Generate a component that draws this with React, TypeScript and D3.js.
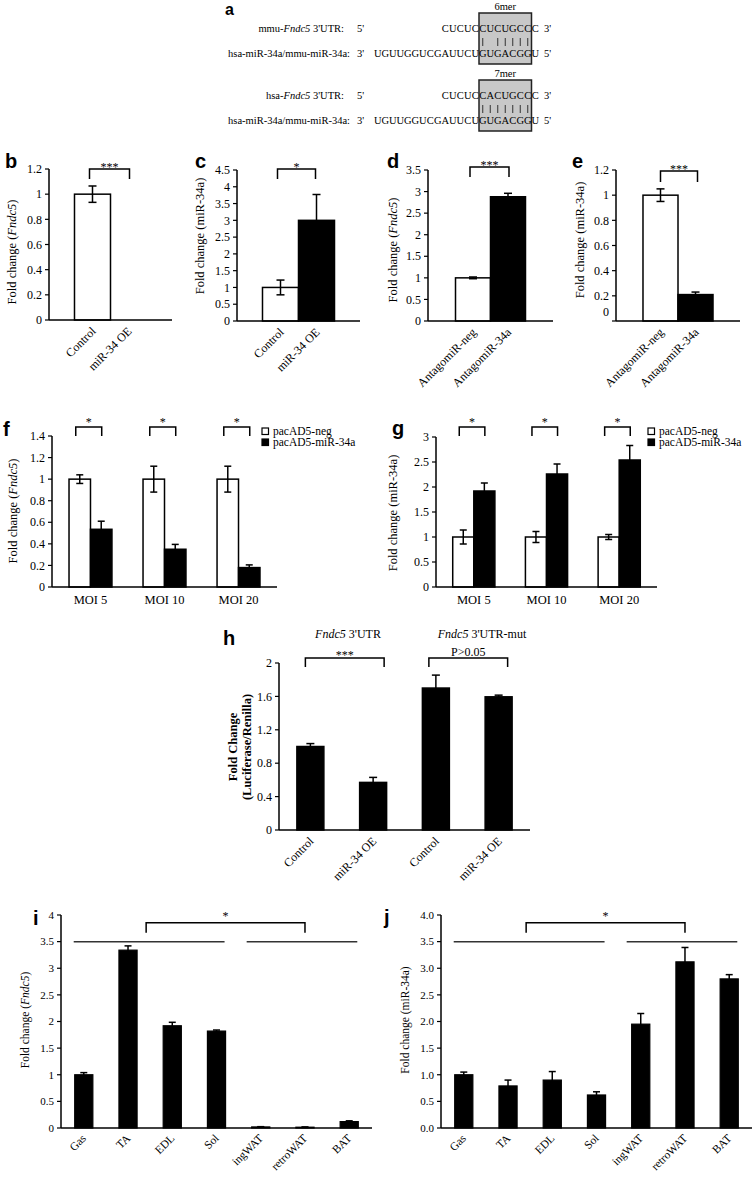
import React from 'react';
import * as d3 from 'd3';

const SERIF = "'Liberation Serif', 'Times New Roman', serif";
const SANS = "'Liberation Sans', Arial, sans-serif";

// ---------- DATA ----------
const seqMmuUtr = "CUCUCCUCUGCCC";
const seqHsaUtr = "CUCUCCACUGCCC";
const seqMir = "UGUUGGUCGAUUCUGUGACGGU";
const seedLabels = ["6mer", "7mer"];

const bCats = ["Control", "miR-34 OE"];
const bVals = [1.0, 0];
const bErr = [0.065, 0];
const bTicks = [0, 0.2, 0.4, 0.6, 0.8, 1, 1.2];

const cCats = ["Control", "miR-34 OE"];
const cVals = [1.0, 3.0];
const cErr = [0.22, 0.77];
const cTicks = [0, 0.5, 1, 1.5, 2, 2.5, 3, 3.5, 4, 4.5];

const dCats = ["AntagomiR-neg", "AntagomiR-34a"];
const dVals = [1.0, 2.88];
const dErr = [0.02, 0.08];
const dTicks = [0, 0.5, 1, 1.5, 2, 2.5, 3, 3.5];

const eCats = ["AntagomiR-neg", "AntagomiR-34a"];
const eVals = [1.0, 0.21];
const eErr = [0.05, 0.02];
const eTicks = [0, 0.2, 0.4, 0.6, 0.8, 1, 1.2];

const moiGroups = ["MOI 5", "MOI 10", "MOI 20"];
const seriesNames = ["pacAD5-neg", "pacAD5-miR-34a"];
const fNeg = [1.0, 1.0, 1.0];
const fNegErr = [0.04, 0.12, 0.12];
const fMir = [0.535, 0.35, 0.18];
const fMirErr = [0.075, 0.045, 0.025];
const fTicks = [0, 0.2, 0.4, 0.6, 0.8, 1, 1.2, 1.4];

const gNeg = [1.0, 1.0, 1.0];
const gNegErr = [0.14, 0.11, 0.05];
const gMir = [1.92, 2.26, 2.54];
const gMirErr = [0.16, 0.2, 0.29];
const gTicks = [0, 0.5, 1, 1.5, 2, 2.5, 3];

const hCats = ["Control", "miR-34 OE", "Control", "miR-34 OE"];
const hVals = [1.0, 0.57, 1.7, 1.595];
const hErr = [0.035, 0.06, 0.155, 0.02];
const hTicks = [0, 0.4, 0.8, 1.2, 1.6, 2];
const hHeaders = ["3'UTR", "3'UTR-mut"];

const tissues = ["Gas", "TA", "EDL", "Sol", "ingWAT", "retroWAT", "BAT"];
const iVals = [1.0, 3.34, 1.92, 1.82, 0.02, 0.015, 0.12];
const iErr = [0.04, 0.08, 0.065, 0.02, 0.005, 0.005, 0.015];
const iTicks = [0, 0.5, 1, 1.5, 2, 2.5, 3, 3.5, 4];

const jVals = [1.0, 0.79, 0.9, 0.62, 1.95, 3.12, 2.8];
const jErr = [0.05, 0.11, 0.16, 0.06, 0.2, 0.27, 0.08];
const jTicks = [0, 0.5, 1, 1.5, 2, 2.5, 3, 3.5, 4];

const groupLineValue = 3.5;

// ---------- helpers ----------
type Part = { t: string; i?: boolean };
const Parts = ({ parts }: { parts: Part[] }) => (
  <>
    {parts.map((p, k) => (
      <tspan key={k} fontStyle={p.i ? 'italic' : 'normal'}>{p.t}</tspan>
    ))}
  </>
);

const Letter = ({ t, x, y, size = 20 }: { t: string; x: number; y: number; size?: number }) => (
  <text x={x} y={y} fontFamily={SANS} fontWeight="bold" fontSize={size} fill="#000">{t}</text>
);

const ErrorBar = ({ cx, y1, y2, cap }: { cx: number; y1: number; y2: number; cap: number }) => (
  <g stroke="#000" strokeWidth={1.5}>
    <line x1={cx} x2={cx} y1={y1} y2={y2} />
    <line x1={cx - cap / 2} x2={cx + cap / 2} y1={y1} y2={y1} />
    <line x1={cx - cap / 2} x2={cx + cap / 2} y1={y2} y2={y2} />
  </g>
);

const BracketMark = ({ x1, x2, top, drop, text, ty, font = 12 }: any) => (
  <g>
    <path d={`M${x1},${top + drop}V${top}H${x2}V${top + drop}`} fill="none" stroke="#000" strokeWidth={1.5} />
    <text x={(x1 + x2) / 2} y={ty} textAnchor="middle" fontFamily={SERIF} fontSize={font}>{text}</text>
  </g>
);

interface YAxisProps {
  x0: number; x1: number; y: d3.ScaleLinear<number, number>; ticks: number[]; fmt: (v: number) => string;
  font: number; zeroDy?: number;
}
const Axes = ({ x0, x1, y, ticks, fmt, font, zeroDy = 0 }: YAxisProps) => {
  const [d0, d1] = y.domain();
  return (
    <g>
      <line x1={x0} x2={x0} y1={y(d0)} y2={y(d1)} stroke="#000" strokeWidth={1.5} />
      <line x1={x0} x2={x1} y1={y(d0)} y2={y(d0)} stroke="#000" strokeWidth={1.5} />
      {ticks.map((t) => (
        <g key={t}>
          <line x1={x0 - 4} x2={x0} y1={y(t)} y2={y(t)} stroke="#000" strokeWidth={1.2} />
          <text x={x0 - 7} y={y(t) + (t === 0 ? zeroDy : 0)} dy="0.35em" textAnchor="end" fontFamily={SERIF} fontSize={font}>{fmt(t)}</text>
        </g>
      ))}
    </g>
  );
};

const YLabel = ({ x, y, parts, font = 12.5, bold = false }: { x: number; y: number; parts: Part[]; font?: number; bold?: boolean }) => (
  <text transform={`translate(${x},${y}) rotate(-90)`} textAnchor="middle" fontFamily={SERIF} fontSize={font} fontWeight={bold ? 'bold' : 'normal'}>
    <Parts parts={parts} />
  </text>
);

const fmtPlain = (v: number) => String(v);
const fmtOne = (v: number) => v.toFixed(1);

// ---------- simple bar panel ----------
interface BracketCfg { a: number; b: number; top: number; drop: number; text: string; dl: number; dr: number; ty: number; font?: number }
interface SimpleCfg {
  letter: string; lx: number; ly: number;
  x0: number; x1: number; y0: number; yTop: number; max: number;
  ticks: number[]; fmt: (v: number) => string; tickFont: number; zeroDy?: number;
  labels: string[]; values: number[]; errors: number[]; fills: string[];
  pi: number; po: number; cap: number; xFont: number;
  ylab: Part[]; ylx: number; yly: number; ylFont?: number;
  brackets: BracketCfg[];
}

function SimplePanel({ c }: { c: SimpleCfg }) {
  const keys = c.labels.map((_, i) => String(i));
  const x = d3.scaleBand().domain(keys).range([c.x0, c.x1]).paddingInner(c.pi).paddingOuter(c.po);
  const y = d3.scaleLinear().domain([0, c.max]).range([c.y0, c.yTop]);
  const bw = x.bandwidth();
  const cx = (i: number) => (x(String(i)) as number) + bw / 2;
  return (
    <g>
      <Letter t={c.letter} x={c.lx} y={c.ly} />
      {c.values.map((v, i) => (
        <rect key={i} x={x(String(i))} y={y(v)} width={bw} height={c.y0 - y(v)} fill={c.fills[i]} stroke="#000" strokeWidth={1.5} />
      ))}
      {c.values.map((v, i) =>
        c.errors[i] > 0 ? <ErrorBar key={i} cx={cx(i)} y1={y(v + c.errors[i])} y2={y(v - c.errors[i])} cap={Math.min(8, bw * 0.4)} /> : null
      )}
      <Axes x0={c.x0} x1={c.x1} y={y} ticks={c.ticks} fmt={c.fmt} font={c.tickFont} zeroDy={c.zeroDy} />
      {c.labels.map((l, i) => (
        <text key={i} transform={`translate(${cx(i) + 4},${c.y0 + 12}) rotate(-45)`} textAnchor="end" fontFamily={SERIF} fontSize={c.xFont}>{l}</text>
      ))}
      {c.ylab.length > 0 && <YLabel x={c.ylx} y={c.yly} parts={c.ylab} font={c.ylFont} />}
      {c.brackets.map((b, k) => (
        <BracketMark key={k} x1={cx(b.a) + b.dl} x2={cx(b.b) + b.dr} top={b.top} drop={b.drop} text={b.text} ty={b.ty} font={b.font} />
      ))}
    </g>
  );
}

// ---------- grouped panel ----------
interface GroupCfg {
  letter: string; lx: number; ly: number;
  x0: number; x1: number; y0: number; yTop: number; max: number; ticks: number[];
  neg: number[]; negErr: number[]; mir: number[]; mirErr: number[];
  ylab: Part[]; ylx: number; yly: number;
  legX: number; legY: number; bTop: number;
}
function GroupPanel({ c }: { c: GroupCfg }) {
  const x = d3.scaleBand().domain(moiGroups).range([c.x0, c.x1]).paddingInner(0.42).paddingOuter(0.23);
  const sub = d3.scaleBand().domain(seriesNames).range([0, x.bandwidth()]);
  const y = d3.scaleLinear().domain([0, c.max]).range([c.y0, c.yTop]);
  const sw = sub.bandwidth();
  const series = [
    { name: seriesNames[0], vals: c.neg, errs: c.negErr, fill: '#fff' },
    { name: seriesNames[1], vals: c.mir, errs: c.mirErr, fill: '#000' },
  ];
  const legStep = 11;
  return (
    <g>
      <Letter t={c.letter} x={c.lx} y={c.ly} />
      {moiGroups.map((g, gi) => (
        <g key={g}>
          {series.map((s) => {
            const bx = (x(g) as number) + (sub(s.name) as number);
            return <rect key={s.name} x={bx} y={y(s.vals[gi])} width={sw} height={c.y0 - y(s.vals[gi])} fill={s.fill} stroke="#000" strokeWidth={1.5} />;
          })}
          {series.map((s) => {
            const bx = (x(g) as number) + (sub(s.name) as number) + sw / 2;
            return <ErrorBar key={s.name} cx={bx} y1={y(s.vals[gi] + s.errs[gi])} y2={y(s.vals[gi] - s.errs[gi])} cap={7} />;
          })}
          <text x={(x(g) as number) + x.bandwidth() / 2} y={c.y0 + 17} textAnchor="middle" fontFamily={SERIF} fontSize={12.5}>{g}</text>
          <BracketMark
            x1={(x(g) as number) + (sub(seriesNames[0]) as number) + sw / 2 - 4}
            x2={(x(g) as number) + (sub(seriesNames[1]) as number) + sw / 2 + 0.5}
            top={c.bTop} drop={9} text="*" ty={c.bTop - 1} />
        </g>
      ))}
      <Axes x0={c.x0} x1={c.x1} y={y} ticks={c.ticks} fmt={fmtPlain} font={12} />
      <YLabel x={c.ylx} y={c.yly} parts={c.ylab} />
      {series.map((s, k) => (
        <g key={s.name}>
          <rect x={c.legX} y={c.legY + k * legStep} width={6.5} height={6.5} fill={s.fill} stroke="#000" strokeWidth={1.2} />
          <text x={c.legX + 11} y={c.legY + 7 + k * legStep} fontFamily={SERIF} fontSize={11.5}>{s.name}</text>
        </g>
      ))}
    </g>
  );
}

// ---------- tissue panel ----------
interface TissueCfg {
  letter: string; lx: number; ly: number;
  x0: number; x1: number; y0: number; yTop: number; max: number; ticks: number[]; fmt: (v: number) => string;
  vals: number[]; errs: number[]; ylab: Part[]; ylx: number; yly: number;
}
function TissuePanel({ c }: { c: TissueCfg }) {
  const x = d3.scaleBand().domain(tissues).range([c.x0, c.x1]).paddingInner(0.59).paddingOuter(0.31);
  const y = d3.scaleLinear().domain([0, c.max]).range([c.y0, c.yTop]);
  const bw = x.bandwidth();
  const gl = y(groupLineValue);
  const l1a = (x('Gas') as number) - 1, l1b = (x('Sol') as number) + bw - 1;
  const l2a = (x('ingWAT') as number) - 5, l2b = (x('BAT') as number) + bw - 1;
  const top = gl - 19;
  return (
    <g>
      <Letter t={c.letter} x={c.lx} y={c.ly} />
      {tissues.map((t, i) => (
        <rect key={t} x={x(t)} y={y(c.vals[i])} width={bw} height={c.y0 - y(c.vals[i])} fill="#000" stroke="#000" strokeWidth={1.2} />
      ))}
      {tissues.map((t, i) => (
        <ErrorBar key={t} cx={(x(t) as number) + bw / 2} y1={y(c.vals[i] + c.errs[i])} y2={y(c.vals[i] - c.errs[i])} cap={7} />
      ))}
      <Axes x0={c.x0} x1={c.x1} y={y} ticks={c.ticks} fmt={c.fmt} font={11} />
      {tissues.map((t) => (
        <text key={t} transform={`translate(${(x(t) as number) + bw / 2 + 3},${c.y0 + 11}) rotate(-45)`} textAnchor="end" fontFamily={SERIF} fontSize={11.5}>{t}</text>
      ))}
      <YLabel x={c.ylx} y={c.yly} parts={c.ylab} font={11.5} />
      <line x1={l1a} x2={l1b} y1={gl} y2={gl} stroke="#333" strokeWidth={1.5} />
      <line x1={l2a} x2={l2b} y1={gl} y2={gl} stroke="#333" strokeWidth={1.5} />
      <BracketMark x1={(l1a + l1b) / 2 - 3} x2={(l2a + l2b) / 2 + 3} top={top} drop={10} text="*" ty={top - 3} />
    </g>
  );
}

// ---------- panel a ----------
const comp: Record<string, string> = { C: 'G', G: 'C', A: 'U', U: 'A' };
function SeqBlock({ y, utrLabel, utr, seed }: { y: number; utrLabel: Part[]; utr: string; seed: string }) {
  const pitch = 7.5, left = 374, offset = 9, boxFrom = 14, boxTo = 20;
  const cxB = (k: number) => left + pitch * k + pitch / 2;
  const bx0 = left + pitch * boxFrom, bx1 = left + pitch * (boxTo + 1);
  return (
    <g fontFamily={SERIF} fontSize={10.5}>
      <rect x={bx0} y={y} width={bx1 - bx0} height={51} fill="#c8c8c8" stroke="#222" strokeWidth={1.5} />
      <text x={(bx0 + bx1) / 2} y={y - 3} textAnchor="middle">{seed}</text>
      <text x={344} y={y + 19} textAnchor="end"><Parts parts={utrLabel} /></text>
      <text x={357} y={y + 19}>5'</text>
      {utr.split('').map((ch, i) => (
        <text key={i} x={cxB(i + offset)} y={y + 19} textAnchor="middle">{ch}</text>
      ))}
      <text x={544} y={y + 19}>3'</text>
      {utr.split('').map((ch, i) => {
        const k = i + offset;
        if (k < boxFrom || k > boxTo) return null;
        if (comp[ch] !== seqMir[k]) return null;
        return <line key={i} x1={cxB(k)} x2={cxB(k)} y1={y + 25} y2={y + 33} stroke="#333" strokeWidth={1} />;
      })}
      <text x={350} y={y + 44} textAnchor="end">hsa-miR-34a/mmu-miR-34a:</text>
      <text x={357} y={y + 44}>3'</text>
      {seqMir.split('').map((ch, k) => (
        <text key={k} x={cxB(k)} y={y + 44} textAnchor="middle">{ch}</text>
      ))}
      <text x={544} y={y + 44}>5'</text>
    </g>
  );
}

// ---------- configs (layout) ----------
const small = { y0: 321, yTop: 170, tickFont: 12, xFont: 12, pi: 0, cap: 8 };

const panelB: SimpleCfg = {
  ...small, letter: 'b', lx: 5, ly: 168, x0: 49, x1: 172, y0: 320, yTop: 169, max: 1.2, ticks: bTicks, fmt: fmtPlain,
  labels: bCats, values: bVals, errors: bErr, fills: ['#fff', '#000'], po: 0.708,
  ylab: [{ t: 'Fold change (' }, { t: 'Fndc5', i: true }, { t: ')' }], ylx: 16, yly: 252,
  brackets: [{ a: 0, b: 1, top: 169, drop: 10, text: '***', dl: -3, dr: 1, ty: 171 }],
};
const panelC: SimpleCfg = {
  ...small, letter: 'c', lx: 195, ly: 168, x0: 237, x1: 360, max: 4.5, ticks: cTicks, fmt: fmtPlain,
  labels: cCats, values: cVals, errors: cErr, fills: ['#fff', '#000'], po: 0.708,
  ylab: [{ t: 'Fold change (miR-34a)' }], ylx: 204, yly: 236,
  brackets: [{ a: 0, b: 1, top: 169, drop: 10, text: '*', dl: -3, dr: -1, ty: 171 }],
};
const panelD: SimpleCfg = {
  ...small, letter: 'd', lx: 387, ly: 168, x0: 428, x1: 553, max: 3.5, ticks: dTicks, fmt: fmtPlain,
  labels: dCats, values: dVals, errors: dErr, fills: ['#fff', '#000'], po: 0.786,
  ylab: [{ t: 'Fold change (' }, { t: 'Fndc5', i: true }, { t: ')' }], ylx: 397, yly: 250,
  brackets: [{ a: 0, b: 1, top: 167, drop: 10, text: '***', dl: -3, dr: 1, ty: 169 }],
};
const panelE: SimpleCfg = {
  ...small, letter: 'e', lx: 572, ly: 168, x0: 616, x1: 740, max: 1.2, ticks: eTicks, fmt: fmtPlain, zeroDy: -9,
  labels: eCats, values: eVals, errors: eErr, fills: ['#fff', '#000'], po: 0.771,
  ylab: [{ t: 'Fold change (miR-34a)' }], ylx: 584, yly: 240,
  brackets: [{ a: 0, b: 1, top: 171, drop: 11, text: '***', dl: 0, dr: 2, ty: 173 }],
};
const panelH: SimpleCfg = {
  letter: 'h', lx: 223, ly: 645, x0: 279, x1: 530, y0: 830, yTop: 663, max: 2, ticks: hTicks, fmt: fmtPlain, tickFont: 12,
  labels: hCats, values: hVals, errors: hErr, fills: ['#000', '#000', '#000', '#000'], pi: 0.57, po: 0.285, cap: 8, xFont: 12,
  ylab: [], ylx: 0, yly: 0,
  brackets: [
    { a: 0, b: 1, top: 658, drop: 9, text: '***', dl: -5, dr: 11, ty: 659 },
    { a: 2, b: 3, top: 658, drop: 9, text: 'P>0.05', dl: -7, dr: 9, ty: 656 },
  ],
};
const panelF: GroupCfg = {
  letter: 'f', lx: 3, ly: 436, x0: 52, x1: 277, y0: 587, yTop: 436, max: 1.4, ticks: fTicks,
  neg: fNeg, negErr: fNegErr, mir: fMir, mirErr: fMirErr,
  ylab: [{ t: 'Fold change (' }, { t: 'Fndc5', i: true }, { t: ')' }], ylx: 17, yly: 511,
  legX: 262, legY: 428, bTop: 427,
};
const panelG: GroupCfg = {
  letter: 'g', lx: 392, ly: 435, x0: 436, x1: 657, y0: 587, yTop: 437, max: 3, ticks: gTicks,
  neg: gNeg, negErr: gNegErr, mir: gMir, mirErr: gMirErr,
  ylab: [{ t: 'Fold change (miR-34a)' }], ylx: 397, yly: 513,
  legX: 648, legY: 428, bTop: 427,
};
const panelI: TissueCfg = {
  letter: 'i', lx: 33, ly: 925, x0: 61, x1: 372, y0: 1128, yTop: 915, max: 4, ticks: iTicks, fmt: fmtPlain,
  vals: iVals, errs: iErr, ylab: [{ t: 'Fold change (' }, { t: 'Fndc5', i: true }, { t: ')' }], ylx: 29, yly: 1020,
};
const panelJ: TissueCfg = {
  letter: 'j', lx: 384, ly: 924, x0: 441, x1: 752, y0: 1128, yTop: 915, max: 4, ticks: jTicks, fmt: fmtOne,
  vals: jVals, errs: jErr, ylab: [{ t: 'Fold change (miR-34a)' }], ylx: 409, yly: 1020,
};

export default function App() {
  return (
    <svg width={754} height={1180} viewBox="0 0 754 1180" style={{ position: 'absolute', left: 0, top: 0, background: '#fff' }}>
      <rect width={754} height={1180} fill="#fff" />
      {/* a */}
      <Letter t="a" x={225} y={15} size={16} />
      <SeqBlock y={13} utrLabel={[{ t: 'mmu-' }, { t: 'Fndc5', i: true }, { t: " 3'UTR:" }]} utr={seqMmuUtr} seed={seedLabels[0]} />
      <SeqBlock y={80} utrLabel={[{ t: 'hsa-' }, { t: 'Fndc5', i: true }, { t: " 3'UTR:" }]} utr={seqHsaUtr} seed={seedLabels[1]} />
      <SimplePanel c={panelB} />
      <SimplePanel c={panelC} />
      <SimplePanel c={panelD} />
      <SimplePanel c={panelE} />
      <GroupPanel c={panelF} />
      <GroupPanel c={panelG} />
      <SimplePanel c={panelH} />
      <g fontFamily={SERIF} fontSize={12} textAnchor="middle">
        <text x={348} y={638}><tspan fontStyle="italic">Fndc5</tspan> {hHeaders[0]}</text>
        <text x={482} y={638}><tspan fontStyle="italic">Fndc5</tspan> {hHeaders[1]}</text>
      </g>
      <g fontFamily={SERIF} fontSize={12.5} fontWeight="bold" textAnchor="middle">
        <text transform="translate(237,747) rotate(-90)">Fold Change</text>
        <text transform="translate(251,747) rotate(-90)">(Luciferase/Renilla)</text>
      </g>
      <TissuePanel c={panelI} />
      <TissuePanel c={panelJ} />
    </svg>
  );
}
